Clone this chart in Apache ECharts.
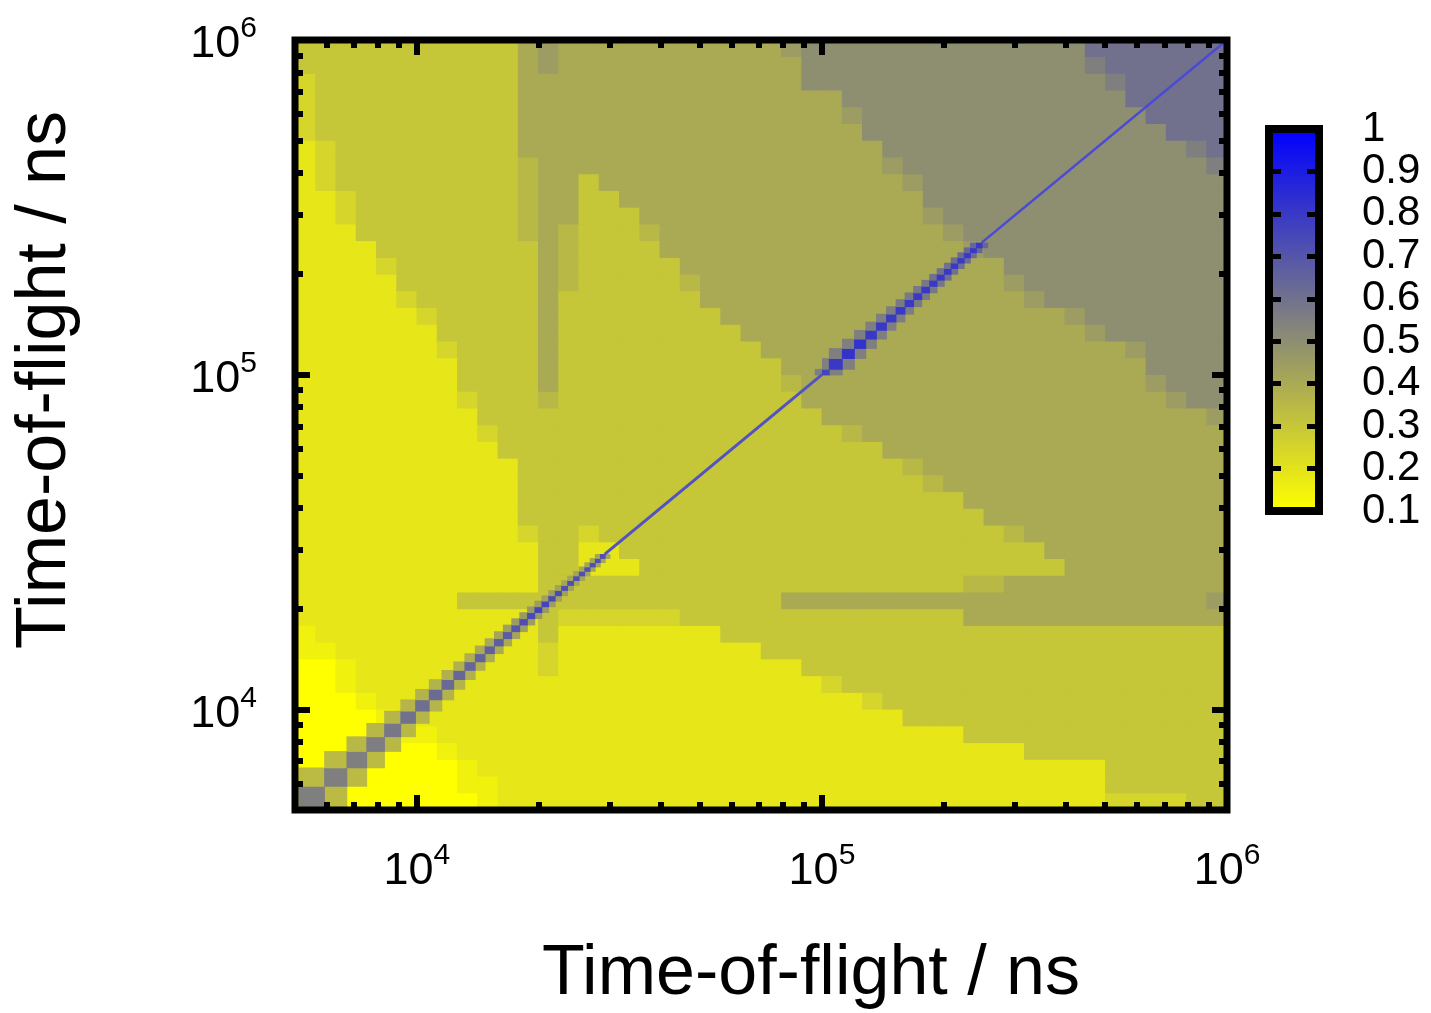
<!DOCTYPE html>
<html lang="en">

<head>
    <meta charset="UTF-8">
    <title>Time-of-flight correlation map</title>
    <script src="https://cdn.jsdelivr.net/npm/echarts@6.0.0/dist/echarts.min.js"></script>
    <style>
        html, body { margin: 0; padding: 0; background: #fff; }
    </style>
</head>

<body>
    <div id="main" style="width: 1431px;height:1013px;"></div>
    <script type="text/javascript">
        // value of each level code used in the map rows
        const levelValues = { '1': 0.1, '2': 0.15, '3': 0.19, '4': 0.25, '5': 0.3, '6': 0.35, '7': 0.4, '8': 0.45, '9': 0.5, 'A': 0.55, 'B': 0.6 };

        // background map, 46 x 46 log bins (0.05 decade) from 5e3 to 1e6 ns
        // rows go from the top (1e6) down to 5e3, run-length coded "code:count"
        const mapRows = [
            '5:11 7 8 7:11 8 9:14 B:7',
            '5:11 7 8 7:12 9:14 A B:6',
            '4 5:10 7:14 9:15 A B:5',
            '4 5:10 7:16 9:14 B:5',
            '4 5:10 7:16 8 9:14 B:4',
            '4 5:10 7:17 9:15 B:3',
            '3 4 5:9 7:18 9:15 A B',
            '3 4 5:9 6 7:17 8 9:15 A',
            '3 4 5:9 6 7:2 5 7:15 8 9:15',
            '3:2 4 5:8 6 7:2 5:2 7:15 9:15',
            '3:2 4 5:8 6 7:2 5:3 7:14 8 9:14',
            '3:3 5:8 6 7 6 5:3 6 7:14 8 9:13',
            '3:4 5:8 7 6 5:4 7:15 8 9:12',
            '3:4 4 5:7 7 6 5:5 7:16 9:11',
            '3:5 5:7 7 6 5:5 6 7:15 8 9:10',
            '3:5 4 5:6 7 5:7 7:16 8 9:9',
            '3:6 4 5:5 7 5:8 7:17 8 9:7',
            '3:7 5:5 7 5:9 7:17 8 9:6',
            '3:7 4 5:4 7 5:10 7:18 8 9:4',
            '3:8 5:4 7 5:11 7:18 9:4',
            '3:8 5:4 7 5:11 6 7:17 8 9:3',
            '3:8 4 5:3 6 5:12 7:18 8 9:2',
            '3:9 5:17 7:19 8',
            '3:9 4 5:17 6 7:18',
            '3:10 5:19 7:17',
            '3:11 5:19 6 7:15',
            '3:11 5:20 6 7:14',
            '3:11 5:22 7:13',
            '3:11 5:23 7:12',
            '3:11 4 5:2 4 5:20 6 7:10',
            '3:12 5:2 3:2 5:21 7:9',
            '3:12 5:2 3:3 5:21 7:8',
            '3:12 5:21 6:2 7:11',
            '3:8 5:16 7:21 8',
            '3:12 5 4:6 5:14 7:13',
            '2 3:11 5 3:8 5:25',
            '2:2 3:10 4 3:10 5:23',
            '1:2 2 3:9 4 3:12 5:21',
            '1:2 2 3:23 4 5:19',
            '1:3 2 3:24 4 5:17',
            '1:4 2 3:25 5:16',
            '1:4 2:3 3:26 5:13',
            '1:7 2 3:28 5:10',
            '1:8 2 3:31 5:6',
            '1:8 2:2 3:30 5:6',
            '1:9 2 3:30 4:4 5:2'
        ];

        // diagonal ridge, short times (800 ns bins)
        const diagLowEdges = [5100, 5900, 6700, 7500, 8300, 9100, 9900, 10700, 11500, 12300, 13100, 13900, 14700, 15500, 16300,
            17100, 17900, 18700, 19500, 20300, 21100, 21900, 22700, 23500, 24300, 25100, 25900, 26700, 27500, 28300, 29100];
        const diagLowValues = [0.55, 0.55, 0.55, 0.56, 0.58, 0.6, 0.61, 0.62, 0.63, 0.64, 0.64, 0.65, 0.66, 0.67, 0.68,
            0.7, 0.72, 0.74, 0.76, 0.76, 0.74, 0.74, 0.72, 0.72, 0.72, 0.72, 0.72, 0.72, 0.72, 0.72];
        const diagLowSide = [0.34, 0.34, 0.34, 0.35, 0.35, 0.36, 0.36, 0.37, 0.37, 0.38, 0.38, 0.39, 0.4, 0.4, 0.42,
            0.44, 0.45, 0.46, 0.46, 0.45, 0.44, 0.44, 0.43, 0.42, 0.42, 0.42, 0.42, 0.42, 0.42, 0.42];

        // diagonal ridge above 1e5 ns (8000 ns bins)
        const diagHighEdges = [100000, 104000, 112000, 120000, 128000, 136000, 144000, 152000, 160000, 168000,
            176000, 184000, 192000, 200000, 208000, 216000, 224000, 232000, 240000, 248000];
        const diagHighValues = [0.76, 0.8, 0.82, 0.82, 0.8, 0.8, 0.8, 0.8, 0.8, 0.8, 0.8, 0.8, 0.8, 0.8, 0.8, 0.8, 0.8, 0.8, 0.8];
        const diagHighSide = [0.55, 0.55, 0.55, 0.55, 0.55, 0.55, 0.56, 0.56, 0.57, 0.57, 0.58, 0.58, 0.6, 0.6, 0.6, 0.62, 0.62, 0.64, 0.64];

        // thin parts of the ridge (start, end) in ns
        const diagLineMid = [29100, 100000];
        const diagLineTop = [248000, 1000000];

        const majorTicks = [1e4, 1e5, 1e6];
        const minorTicks = [6000, 7000, 8000, 9000, 2e4, 3e4, 4e4, 5e4, 6e4, 7e4, 8e4, 9e4,
            2e5, 3e5, 4e5, 5e5, 6e5, 7e5, 8e5, 9e5];
        const colorbarRange = [0.1, 1];

        const fontFamily = "'Liberation Sans', Arial, sans-serif";
        const nBins = 46;
        const logMin = Math.log10(5000);

        function binEdge(k) {
            return k >= nBins ? 1e6 : Math.pow(10, logMin + 0.05 * k);
        }

        function decodeRow(s) {
            let out = '';
            s.split(' ').forEach(tok => {
                const parts = tok.split(':');
                out += parts[0].repeat(parts[1] ? +parts[1] : 1);
            });
            return out;
        }

        // build map cells [x0, x1, y0, y1, value]
        const mapCells = [];
        if (mapRows.length !== nBins) throw new Error('map has ' + mapRows.length + ' rows');
        mapRows.forEach((rle, r) => {
            const row = decodeRow(rle);
            if (row.length !== nBins) throw new Error('map row ' + r + ' has ' + row.length + ' cells');
            const j = nBins - 1 - r;
            for (let k = 0; k < nBins; k++) {
                mapCells.push([binEdge(k), binEdge(k + 1), binEdge(j), binEdge(j + 1), levelValues[row[k]]]);
            }
        });

        // diagonal cell plus its left / right neighbours in the same row
        const diagCells = [];
        function addDiag(edges, values, side) {
            for (let i = 0; i < values.length; i++) {
                const a = edges[i], b = edges[i + 1];
                const prev = i > 0 ? edges[i - 1] : a - (b - a);
                const next = i + 2 < edges.length ? edges[i + 2] : b + (b - a);
                diagCells.push([prev, a, a, b, side[i]]);
                diagCells.push([b, next, a, b, side[i]]);
                diagCells.push([a, b, a, b, values[i]]);
            }
        }
        addDiag(diagLowEdges, diagLowValues, diagLowSide);
        addDiag(diagHighEdges, diagHighValues, diagHighSide);

        function renderCell(params, api) {
            const a = api.coord([api.value(0), api.value(3)]);
            const b = api.coord([api.value(1), api.value(2)]);
            return {
                type: 'rect',
                shape: { x: a[0], y: a[1], width: b[0] - a[0] + 0.8, height: b[1] - a[1] + 0.8 },
                style: { fill: api.visual('color') }
            };
        }

        function renderColorbar(params, api) {
            const a = api.coord([api.value(0), api.value(3)]);
            const b = api.coord([api.value(1), api.value(2)]);
            return {
                type: 'rect',
                shape: { x: a[0], y: a[1], width: b[0] - a[0], height: b[1] - a[1] },
                style: {
                    fill: new echarts.graphic.LinearGradient(0, 1, 0, 0, [
                        { offset: 0, color: '#ffff00' },
                        { offset: 1, color: '#0000ff' }
                    ])
                }
            };
        }

        const labelRich = {
            b: { fontSize: 45, lineHeight: 62, fontFamily: fontFamily, color: '#000' },
            s: { fontSize: 30, lineHeight: 26, verticalAlign: 'top', fontFamily: fontFamily, color: '#000' }
        };
        function powLabel(v) {
            return '{b|10}{s|' + Math.round(Math.log10(v)) + '}';
        }

        function logAxis(position, ticks, len, label) {
            return {
                type: 'log', logBase: 10, min: 5000, max: 1e6, position: position, z: 12,
                axisLine: { show: false, onZero: false },
                splitLine: { show: false },
                axisTick: { show: true, inside: true, length: len, customValues: ticks, lineStyle: { color: '#000', width: 6 } },
                axisLabel: label ? Object.assign({ show: true, customValues: majorTicks, formatter: powLabel, rich: labelRich }, label) : { show: false }
            };
        }

        const cbAxisBase = {
            type: 'value', gridIndex: 1, min: colorbarRange[0], max: colorbarRange[1], interval: 0.1, z: 12,
            axisLine: { show: false, onZero: false },
            splitLine: { show: false },
            axisTick: { show: true, inside: true, length: 12, lineStyle: { color: '#000', width: 5 } }
        };

        let myChart = echarts.init(document.getElementById('main'));
        let options = {
            animation: false,
            grid: [
                { left: 295, top: 40, width: 932, height: 770, show: true, borderColor: '#000', borderWidth: 7, z: 10, containLabel: false, outerBoundsMode: 'none' },
                { left: 1269, top: 129, width: 50, height: 382, show: true, borderColor: '#000', borderWidth: 8, z: 10, containLabel: false, outerBoundsMode: 'none' }
            ],
            xAxis: [
                logAxis('bottom', majorTicks, 15, { margin: 31 }),
                logAxis('bottom', minorTicks, 8, null),
                logAxis('top', majorTicks, 15, null),
                logAxis('top', minorTicks, 8, null),
                { type: 'value', gridIndex: 1, min: 0, max: 1, show: false, axisLine: { onZero: false } }
            ],
            yAxis: [
                logAxis('left', majorTicks, 15, { margin: 38, padding: [10, 0, 0, 0] }),
                logAxis('left', minorTicks, 8, null),
                logAxis('right', majorTicks, 15, null),
                logAxis('right', minorTicks, 8, null),
                Object.assign({}, cbAxisBase, {
                    position: 'right',
                    axisLabel: {
                        show: true, margin: 43, fontSize: 42, fontFamily: fontFamily, color: '#000',
                        formatter: v => String(+v.toFixed(1))
                    }
                }),
                Object.assign({}, cbAxisBase, { position: 'left', axisLabel: { show: false } })
            ],
            visualMap: {
                type: 'continuous', show: false, min: colorbarRange[0], max: colorbarRange[1],
                dimension: 4, seriesIndex: [0, 1],
                inRange: { color: ['#ffff00', '#0000ff'] }
            },
            series: [
                {
                    type: 'custom', renderItem: renderCell, data: mapCells, clip: true,
                    encode: { x: [0, 1], y: [2, 3] }, silent: true, z: 1
                },
                {
                    type: 'custom', renderItem: renderCell, data: diagCells, clip: true,
                    encode: { x: [0, 1], y: [2, 3] }, silent: true, z: 2
                },
                {
                    type: 'line', data: diagLineMid.map(t => [t, t]), showSymbol: false, silent: true, z: 3,
                    lineStyle: { color: '#5252c4', width: 3 }
                },
                {
                    type: 'line', data: diagLineTop.map(t => [t, t]), showSymbol: false, silent: true, z: 3,
                    lineStyle: { color: '#4a4ad6', width: 2.5 }
                },
                {
                    type: 'custom', renderItem: renderColorbar, xAxisIndex: 4, yAxisIndex: 4,
                    data: [[0, 1, colorbarRange[0], colorbarRange[1]]], encode: { x: [0, 1], y: [2, 3] }, silent: true, z: 1
                }
            ],
            graphic: [
                {
                    type: 'text', x: 811, y: 975,
                    style: { text: 'Time-of-flight / ns', fontSize: 70, fontFamily: fontFamily, fill: '#000', align: 'center', verticalAlign: 'middle' }
                },
                {
                    type: 'text', x: 46, y: 380, rotation: Math.PI / 2,
                    style: { text: 'Time-of-flight / ns', fontSize: 70, fontFamily: fontFamily, fill: '#000', align: 'center', verticalAlign: 'middle' }
                }
            ]
        };
        myChart.setOption(options);
    </script>
</body>

</html>
